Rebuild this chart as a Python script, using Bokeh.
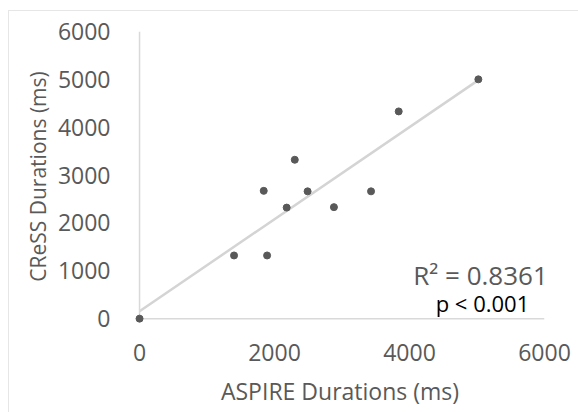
import numpy as np
from bokeh.plotting import figure
from bokeh.models import Label, Span, Range1d, FixedTicker
from bokeh.embed import file_html
from bokeh.resources import INLINE

# Data
aspire_ms = [0, 1400, 1890, 1840, 2180, 2300, 2490, 2880, 3430, 3840, 5020]
cress_ms = [0, 1320, 1320, 2670, 2320, 3320, 2660, 2330, 2660, 4330, 5000]
tick_values = [0, 2000, 4000, 6000]
y_tick_values = [0, 1000, 2000, 3000, 4000, 5000, 6000]
r2_text = "R² = 0.8361"
p_text = "p < 0.001"

FONT = "Open Sans"
GRAY = "#595959"

PAD = 60  # small range padding so the origin dot is not clipped

p = figure(width=570, height=402, output_backend="svg", toolbar_location=None,
           x_range=Range1d(-PAD, 6000), y_range=Range1d(-PAD, 6000),
           margin=(10, 0, 0, 8),
           min_border_left=126, min_border_right=35, min_border_top=20, min_border_bottom=92)
p.styles = {"border-left": "1.5px solid #e6e6e6", "border-top": "1.5px solid #e6e6e6"}
p.outline_line_color = None
p.xgrid.grid_line_color = None
p.ygrid.grid_line_color = None

# trendline (least squares)
slope, intercept = np.polyfit(aspire_ms, cress_ms, 1)
tx = [min(aspire_ms), max(aspire_ms)]
ty = [intercept + slope * v for v in tx]
p.line(tx, ty, line_color="#d4d4d4", line_width=2.5)

# axis lines at zero
p.add_layout(Span(location=0, dimension="width", line_color="#d9d9d9", line_width=1.5))
p.add_layout(Span(location=0, dimension="height", line_color="#d9d9d9", line_width=1.5))

for ax in (p.xaxis[0], p.yaxis[0]):
    ax.axis_line_color = None
    ax.major_tick_line_color = None
    ax.minor_tick_line_color = None
    ax.major_label_text_font = FONT
    ax.major_label_text_font_size = "23px"
    ax.major_label_text_color = GRAY
    ax.axis_label_text_font = FONT
    ax.axis_label_text_color = GRAY
    ax.axis_label_text_font_style = "normal"

p.scatter(aspire_ms, cress_ms, size=7, color=GRAY, level="overlay")

p.xaxis.axis_label_text_font_size = "23px"
p.yaxis.axis_label_text_font_size = "21px"
p.xaxis.ticker = FixedTicker(ticks=tick_values)
p.yaxis.ticker = FixedTicker(ticks=y_tick_values)
p.xaxis.axis_label = "ASPIRE Durations (ms)"
p.yaxis.axis_label = "CReSS Durations (ms)"
p.xaxis.major_label_standoff = 16
p.yaxis.major_label_standoff = 19
p.xaxis.axis_label_standoff = 11
p.yaxis.axis_label_standoff = 3

p.add_layout(Label(x=5052, y=920, text=r2_text, text_align="center", text_baseline="middle",
                   text_font=FONT, text_font_size="26px", text_color=GRAY))
p.add_layout(Label(x=5081, y=320, text=p_text, text_align="center", text_baseline="middle",
                   text_font=FONT, text_font_size="22px", text_color="#000000"))

open("out.html", "w").write(file_html(p, INLINE))
